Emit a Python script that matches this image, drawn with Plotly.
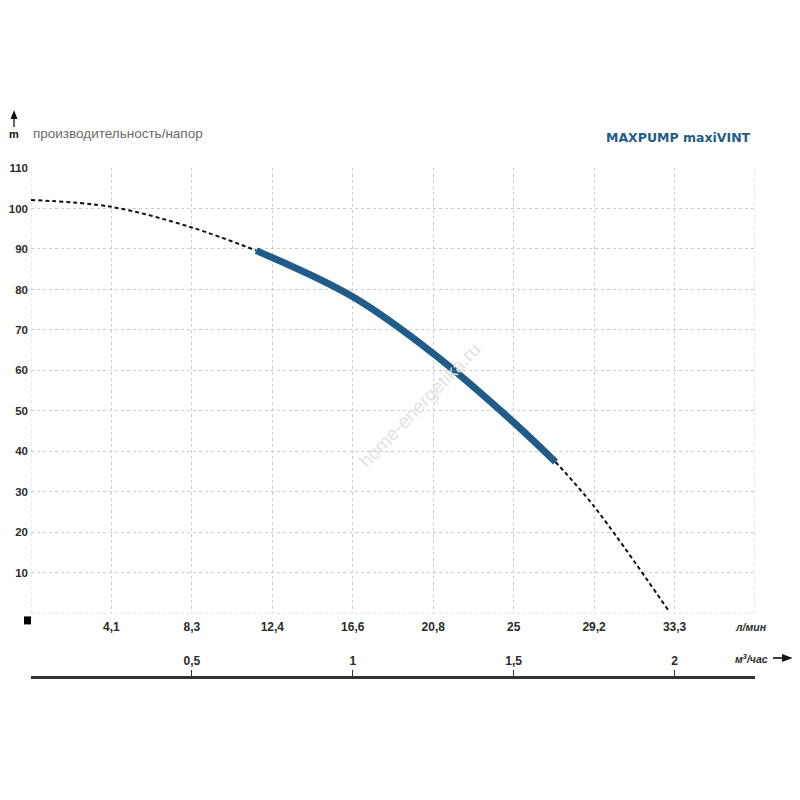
import plotly.graph_objects as go

# ---- data (flow in m3/h, head in m) ----
q_dash_left = [0.0, 0.25, 0.5, 0.70]
h_dash_left = [102.1, 100.4, 95.3, 89.6]

q_solid = [0.70, 1.0, 1.25, 1.5, 1.63]
h_solid = [89.6, 78.2, 64.2, 47.2, 37.4]

q_dash_right = [1.63, 1.75, 1.982]
h_dash_right = [37.4, 26.4, 0.6]

lmin_vals = [0.25, 0.5, 0.75, 1.0, 1.25, 1.5, 1.75, 2.0]
lmin_text = ["4,1", "8,3", "12,4", "16,6", "20,8", "25", "29,2", "33,3"]

m3h_vals = [0.5, 1.0, 1.5, 2.0]
m3h_text = ["0,5", "1", "1,5", "2"]

y_vals = [10, 20, 30, 40, 50, 60, 70, 80, 90, 100, 110]
y_text = [str(v) for v in y_vals]

title_text = "MAXPUMP maxiVINT"
subtitle_text = "производительность/напор"

BLUE = "#1f5c8a"
TXT = "#2b2b2b"
GRID = "#cdcdcd"
FONT = "Liberation Sans, Arial, sans-serif"

OFF = 8  # page body margin in the browser
L, R, T, B = 31 - OFF, 755 - OFF, 168 - OFF, 677 - OFF   # pixel frame of plot area
PW, PH = R - L, B - T


def px(x):
    """screen x (as seen in the photo) -> paper fraction"""
    return (x - OFF - L) / PW


def py(y):
    """screen y (as seen in the photo) -> paper fraction"""
    return (B - (y - OFF)) / PH


fig = go.Figure()
fig.add_trace(go.Scatter(x=q_dash_left, y=h_dash_left, mode="lines",
                         line=dict(color="#111111", width=2, dash="4px,3px", shape="spline"),
                         hoverinfo="skip", showlegend=False))
fig.add_trace(go.Scatter(x=q_dash_right, y=h_dash_right, mode="lines",
                         line=dict(color="#111111", width=2, dash="4px,3px", shape="spline"),
                         hoverinfo="skip", showlegend=False))
fig.add_trace(go.Scatter(x=q_solid, y=h_solid, mode="lines",
                         line=dict(color=BLUE, width=7, shape="spline"),
                         hoverinfo="skip", showlegend=False))
# dummy trace for second x axis
fig.add_trace(go.Scatter(x=[0, 2.25], y=[0, 0], xaxis="x2", mode="lines",
                         line=dict(width=0), hoverinfo="skip", showlegend=False))

fig.update_layout(
    width=800, height=800,
    margin=dict(l=L, r=800 - R, t=T, b=800 - B, autoexpand=False),
    paper_bgcolor="white", plot_bgcolor="white",
    font=dict(family=FONT, color=TXT),
    xaxis=dict(range=[0, 2.25], tickvals=lmin_vals, ticktext=lmin_text,
               showgrid=True, gridcolor=GRID, griddash="dot", gridwidth=1,
               zeroline=False, showline=False, ticks="", anchor="y", automargin=False,
               tickfont=dict(size=12, family=FONT, color=TXT, weight="bold"),
               ticklabelstandoff=5),
    xaxis2=dict(range=[0, 2.25], overlaying="x", anchor="free", position=0,
                side="top", tickvals=m3h_vals, ticktext=m3h_text, automargin=False,
                showgrid=False, zeroline=False, showline=True,
                linecolor="#333333", linewidth=3, ticks="outside",
                ticklen=6, tickcolor="#333333", tickwidth=1,
                tickfont=dict(size=12, family=FONT, color=TXT, weight="bold")),
    yaxis=dict(range=[0, 110], domain=[py(613.4), 1], tickvals=y_vals, ticktext=y_text,
               showgrid=True, gridcolor=GRID, griddash="dot", gridwidth=1,
               zeroline=False, showline=False, ticks="", automargin=False,
               tickfont=dict(size=11.5, family=FONT, color=TXT, weight="bold"),
               ticklabelstandoff=2),
)

# extra grid lines at plot edges (dotted)
for xv in [0, 2.25]:
    fig.add_shape(type="line", xref="x", yref="y", x0=xv, x1=xv, y0=0, y1=110,
                  line=dict(color=GRID, width=1, dash="dot"), layer="below")
fig.add_shape(type="line", xref="x", yref="y", x0=0, x1=2.25, y0=0, y1=0,
              line=dict(color=GRID, width=1, dash="dot"), layer="below")

# black square at origin (paper-referenced so it is not clipped)
fig.add_shape(type="rect", xref="paper", yref="paper", xsizemode="pixel", ysizemode="pixel",
              xanchor=0, yanchor=py(613.4), x0=-7, x1=0, y0=-3, y1=-11,
              fillcolor="black", line=dict(width=0))

# arrows drawn as shapes (paper coords)
fig.add_shape(type="line", xref="paper", yref="paper",
              x0=px(14), x1=px(14), y0=py(127), y1=py(117),
              line=dict(color="#111111", width=1.3))
fig.add_shape(type="path", xref="paper", yref="paper",
              path=f"M {px(10.5)} {py(119)} L {px(17.5)} {py(119)} L {px(14)} {py(110)} Z",
              fillcolor="#111111", line=dict(width=0))
fig.add_shape(type="line", xref="paper", yref="paper",
              x0=px(773), x1=px(784), y0=py(658), y1=py(658),
              line=dict(color="#111111", width=1.6))
fig.add_shape(type="path", xref="paper", yref="paper",
              path=f"M {px(782)} {py(654)} L {px(782)} {py(662)} L {px(793)} {py(658)} Z",
              fillcolor="#111111", line=dict(width=0))

annotations = [
    dict(text="<b>" + title_text + "</b>", x=753, y=137, xanchor="right", yanchor="middle",
         font=dict(size=12.5, color=BLUE, family="DejaVu Sans, sans-serif")),
    dict(text=subtitle_text, x=31, y=134, xanchor="left", yanchor="middle",
         font=dict(size=13.5, color="#6a6a6a", family=FONT)),
    dict(text="<b>m</b>", x=14, y=134, xanchor="center", yanchor="middle",
         font=dict(size=11, color="#111111", family=FONT)),
    dict(text="<b><i>л/мин</i></b>", x=751, y=627, xanchor="center", yanchor="middle",
         font=dict(size=10.5, color=TXT, family=FONT)),
    dict(text="<b><i>м<sup>3</sup>/час</i></b>", x=751, y=658, xanchor="center", yanchor="middle",
         font=dict(size=10.5, color=TXT, family=FONT)),
    dict(text="home-energetika.ru", x=419, y=405, xanchor="center", yanchor="middle",
         textangle=-46, font=dict(size=19, color="#e2e2e2", family=FONT)),
]
for a in annotations:
    x_, y_ = a.pop("x"), a.pop("y")
    fig.add_annotation(xref="paper", yref="paper", x=px(x_), y=py(y_),
                       showarrow=False, **a)

fig.write_html("out.html")
